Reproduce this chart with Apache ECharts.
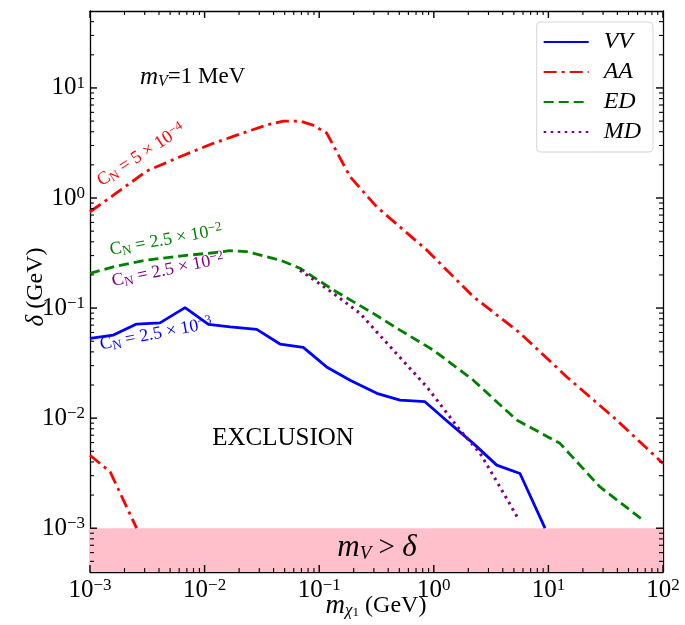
<!DOCTYPE html>
<html><head><meta charset="utf-8">
<script src="https://cdn.jsdelivr.net/npm/echarts@6/dist/echarts.min.js"></script>
<style>html,body{margin:0;padding:0;background:#fff}#c{width:685px;height:625px}</style>
</head><body><div id="c"></div>
<script>
// ---- data ----
const vvX = [0.001, 0.0016, 0.00255, 0.00408, 0.00675, 0.0108, 0.0167, 0.0285, 0.0455, 0.0726, 0.116, 0.186, 0.318, 0.507, 0.837, 1.38, 2.21, 3.54, 5.65, 9.34];
const vvY = [0.0531, 0.0569, 0.0716, 0.0734, 0.101, 0.0711, 0.0676, 0.064, 0.0471, 0.044, 0.0292, 0.0221, 0.0168, 0.0146, 0.0141, 0.00895, 0.0059, 0.00374, 0.00314, 0.001];

const aaX = [0.001, 0.0016, 0.00313, 0.0061, 0.0119, 0.0233, 0.0348, 0.0486, 0.068, 0.088, 0.116, 0.186, 0.318, 0.867, 2.21, 5.65, 14.4, 39.4, 100];
const aaY = [0.75, 1.06, 1.76, 2.37, 3.14, 4.0, 4.6, 5.0, 5.0, 4.6, 3.9, 1.56, 0.83, 0.337, 0.127, 0.0593, 0.0238, 0.0096, 0.00387];
const aaLowX = [0.001, 0.0015, 0.00255];
const aaLowY = [0.0046, 0.00325, 0.001];

const edX = [0.001, 0.0016, 0.00313, 0.0061, 0.0119, 0.0167, 0.0233, 0.0455, 0.068, 0.088, 0.133, 0.296, 0.507, 0.99, 2.21, 5.29, 12.6, 28.2, 67.3];
const edY = [0.207, 0.237, 0.273, 0.297, 0.318, 0.332, 0.325, 0.273, 0.23, 0.193, 0.146, 0.0895, 0.063, 0.0415, 0.0221, 0.0096, 0.0059, 0.00237, 0.00118];

const mdX = [0.068, 0.133, 0.227, 0.443, 0.867, 1.69, 2.53, 3.78, 5.46];
const mdY = [0.221, 0.136, 0.0895, 0.0415, 0.0193, 0.0078, 0.0048, 0.00237, 0.00122];

const seriesNames = ['VV', 'AA', 'ED', 'MD'];
const xRange = [0.001, 100];
const yRange = [0.0004, 50];
const bandTop = 0.001;              // m_V = 1 MeV
const xMajor = [0.001, 0.01, 0.1, 1, 10, 100];
const yMajor = [0.001, 0.01, 0.1, 1, 10];
const decades = [0.0001, 0.001, 0.01, 0.1, 1, 10];
const minorMult = [2, 3, 4, 5, 6, 7, 8, 9];

// ---- helpers ----
const zip = (xs, ys) => xs.map((x, i) => [x, ys[i]]);
const FONT = 'Liberation Serif';
const minorVals = (lo, hi) => {
  const out = [];
  decades.forEach(d => minorMult.forEach(m => { const v = d * m; if (v > lo && v < hi) out.push(+v.toPrecision(3)); }));
  return out;
};
const xMinor = minorVals(xRange[0], xRange[1]);
const yMinor = minorVals(yRange[0], yRange[1]);

const labelFmt = v => {
  const e = Math.round(Math.log10(v));
  return '{b|10}{s|' + (e < 0 ? '\u2212' + (-e) : e) + '}';
};
const mkRich = () => ({
  b: { fontFamily: FONT, fontSize: 25, lineHeight: 26, color: '#000' },
  s: { fontFamily: FONT, fontSize: 17, lineHeight: 14, verticalAlign: 'top', color: '#000' }
});
const mkLine = () => ({ show: true, lineStyle: { color: '#000', width: 1.3 } });
const DASHDOT = [13, 5, 3, 5];

const chart = echarts.init(document.getElementById('c'));

const option = {
  animation: false,
  grid: { left: 90, right: 22, top: 11, bottom: 53 },
  legend: {
    orient: 'vertical', right: 32, top: 22,
    data: seriesNames,
    itemWidth: 45, itemHeight: 12, itemGap: 6,
    padding: [8, 12, 8, 6],
    borderColor: '#d6d6d6', borderWidth: 1, borderRadius: 4,
    itemStyle: { color: 'rgba(0,0,0,0)', borderWidth: 0 },
    textStyle: { fontFamily: FONT, fontStyle: 'italic', fontSize: 24, color: '#000', padding: [0, 0, 0, 10] }
  },
  xAxis: [
    { type: 'log', logBase: 10, min: xRange[0], max: xRange[1], position: 'bottom',
      axisLine: mkLine(), axisTick: { show: false }, splitLine: { show: false },
      axisLabel: { formatter: labelFmt, rich: mkRich(), margin: 5 } },
    { type: 'log', logBase: 10, min: xRange[0], max: xRange[1], position: 'top',
      axisLine: mkLine(), axisTick: { show: false }, splitLine: { show: false }, axisLabel: { show: false } }
  ],
  yAxis: [
    { type: 'log', logBase: 10, min: yRange[0], max: yRange[1], position: 'left',
      axisLine: mkLine(), axisTick: { show: false }, splitLine: { show: false },
      axisLabel: { formatter: labelFmt, rich: mkRich(), margin: 5, showMinLabel: false, showMaxLabel: false } },
    { type: 'log', logBase: 10, min: yRange[0], max: yRange[1], position: 'right',
      axisLine: mkLine(), axisTick: { show: false }, splitLine: { show: false }, axisLabel: { show: false } }
  ],
  series: [
    { name: 'VV', type: 'line', data: zip(vvX, vvY), symbol: 'none',
      lineStyle: { color: '#0000ff', width: 2.8 }, itemStyle: { color: '#0000ff' },
      markArea: { silent: true, itemStyle: { color: '#ffc0cb', opacity: 1 },
        data: [[{ yAxis: yRange[0] }, { yAxis: bandTop }]] } },
    { name: 'AA', type: 'line', data: zip(aaX, aaY), symbol: 'none',
      lineStyle: { color: '#ff0000', width: 2.8, type: DASHDOT }, itemStyle: { color: '#ff0000' } },
    { name: 'AA', type: 'line', data: zip(aaLowX, aaLowY), symbol: 'none',
      lineStyle: { color: '#ff0000', width: 2.8, type: DASHDOT }, itemStyle: { color: '#ff0000' } },
    { name: 'ED', type: 'line', data: zip(edX, edY), symbol: 'none',
      lineStyle: { color: '#008000', width: 2.8, type: [10, 5] }, itemStyle: { color: '#008000' } },
    { name: 'MD', type: 'line', data: zip(mdX, mdY), symbol: 'none',
      lineStyle: { color: '#800080', width: 3, type: [2.6, 4.4] }, itemStyle: { color: '#800080' } }
  ]
};
chart.setOption(option);

// ---- ticks on all four sides (positions from the library's own axis scales), on their own layer ----
const px = v => chart.convertToPixel({ xAxisIndex: 0 }, v);
const py = v => chart.convertToPixel({ yAxisIndex: 0 }, v);
const L = px(xRange[0]), R = px(xRange[1]), T = py(yRange[1]), B = py(yRange[0]);
const tl = (x1, y1, x2, y2, w) => ({ type: 'line', zlevel: 1, z: 100, silent: true,
  shape: { x1, y1, x2, y2 }, style: { stroke: '#000', lineWidth: w } });
const tickEls = [];
const addX = (vals, len, w) => vals.forEach(v => { const x = px(v); tickEls.push(tl(x, B, x, B - len, w), tl(x, T, x, T + len, w)); });
const addY = (vals, len, w) => vals.forEach(v => { const y = py(v); tickEls.push(tl(L, y, L + len, y, w), tl(R, y, R - len, y, w)); });
addX(xMinor, 4, 1.1); addY(yMinor, 4, 1.1);
addX(xMajor, 7, 1.4); addY(yMajor, 7, 1.4);

const txt = (x, y, text, rich, extra) => Object.assign({ type: 'text', x, y, z: 100,
  style: { text, rich, align: 'center', verticalAlign: 'middle' } }, extra || {});

const annot = [
  txt(36, 287, '{i|\u03b4}{n| (GeV)}', {
    i: { fontFamily: FONT, fontStyle: 'italic', fontSize: 25, fill: '#000' },
    n: { fontFamily: FONT, fontSize: 24, fill: '#000' } }, { rotation: Math.PI / 2 }),
  txt(376, 606, '{i|m}{sub|\u03c7}{sub1|1}{n| (GeV)}', {
    i: { fontFamily: FONT, fontStyle: 'italic', fontSize: 27, lineHeight: 26, fill: '#000' },
    sub: { fontFamily: FONT, fontStyle: 'italic', fontSize: 17, lineHeight: 14, verticalAlign: 'bottom', fill: '#000' },
    sub1: { fontFamily: FONT, fontSize: 13, lineHeight: 10, verticalAlign: 'bottom', fill: '#000' },
    n: { fontFamily: FONT, fontSize: 24, lineHeight: 26, fill: '#000' } }),
  txt(140, 77, '{i|m}{sub|V}{n|=1 MeV}', {
    i: { fontFamily: FONT, fontStyle: 'italic', fontSize: 25, lineHeight: 26, fill: '#000' },
    sub: { fontFamily: FONT, fontStyle: 'italic', fontSize: 16, lineHeight: 13, verticalAlign: 'bottom', fill: '#000' },
    n: { fontFamily: FONT, fontSize: 23, lineHeight: 26, fill: '#000' } }),
  { type: 'text', x: 283, y: 438, z: 100,
    style: { text: 'EXCLUSION', align: 'center', verticalAlign: 'middle', font: '25px "Liberation Serif"', fill: '#000' } },
  txt(377, 548, '{i|m}{sub|V}{n| > }{i|\u03b4}', {
    i: { fontFamily: FONT, fontStyle: 'italic', fontSize: 31, lineHeight: 30, fill: '#000' },
    sub: { fontFamily: FONT, fontStyle: 'italic', fontSize: 19, lineHeight: 16, verticalAlign: 'bottom', fill: '#000' },
    n: { fontFamily: FONT, fontSize: 29, lineHeight: 30, fill: '#000' } }),
  ...[
    { x: 141, y: 155, rot: 33, color: '#ff0000', val: '5', exp: '\u22124' },
    { x: 166, y: 240, rot: 10.3, color: '#008000', val: '2.5', exp: '\u22122' },
    { x: 168, y: 270, rot: 11.5, color: '#800080', val: '2.5', exp: '\u22122' },
    { x: 156, y: 334, rot: 11, color: '#0000ff', val: '2.5', exp: '\u22123' }
  ].map(o => txt(o.x, o.y, '{c|C}{sub|N}{c| = ' + o.val + ' \u00d7 10}{sup|' + o.exp + '}', {
      c: { fontFamily: FONT, fontSize: 18, lineHeight: 20, fill: o.color },
      sub: { fontFamily: FONT, fontSize: 13, lineHeight: 11, verticalAlign: 'bottom', fill: o.color },
      sup: { fontFamily: FONT, fontSize: 13, lineHeight: 11, verticalAlign: 'top', fill: o.color } },
    { rotation: o.rot * Math.PI / 180 }))
];
annot[2].style.align = 'left';

chart.setOption({ graphic: annot.concat(tickEls) });
</script>
</body></html>
